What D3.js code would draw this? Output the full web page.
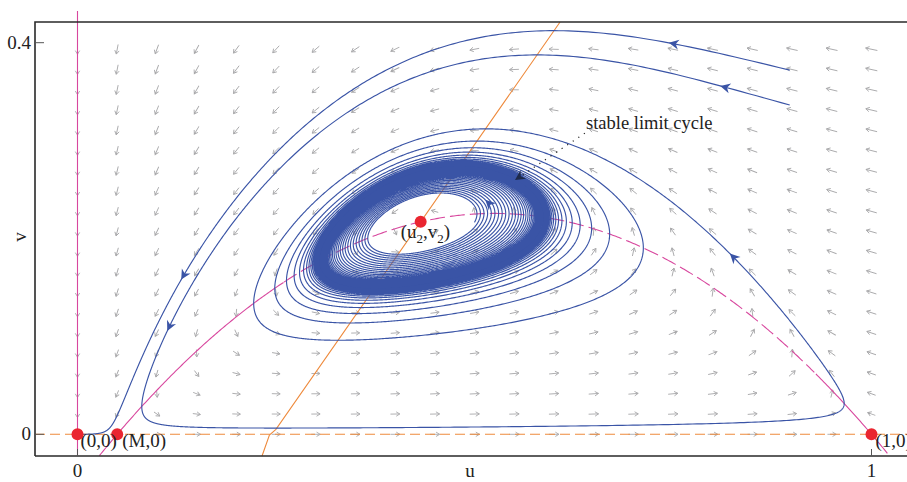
<!DOCTYPE html>
<html>
<head>
<meta charset="utf-8">
<script src="https://cdn.jsdelivr.net/npm/d3@7"></script>
<style>
  body { margin: 0; background: #fff; }
  svg { display: block; font-family: "Liberation Serif", "DejaVu Serif", serif; }
</style>
</head>
<body>
<svg id="chart" width="907" height="482"></svg>
<script>
// Predator–prey model with a strong Allee effect in the prey:
//   u' = u[(1-u)(u-M) - v]
//   v' = s v (u - c - v/k)
const alleeM = [0.05];
const predatorLine = [0.2455, 1.1625];   // c, k  (v-nullcline v = k(u - c))
const predatorRate = [0.407];            // s

// Axis ticks
const uTicks = [0, 1];
const vTicks = [0, 0.4];

// Direction-field grid
const fieldU = d3.range(0, 1.0001, 0.05);
const fieldV = d3.range(0, 20).map(i => i * 0.0207);

// Trajectory starting points and integration times
const trajStarts = [[0.897, 0.372], [0.897, 0.3364], [0.50, 0.2165]];
const trajTimes = [260, 1600, 1600];

// Arrowheads placed along trajectories: [trajectory, u, v]
const trajArrows = [
  [0, 0.7437, 0.3987], [0, 0.1417, 0.1525],
  [1, 0.8117, 0.3537], [1, 0.0976, 0.1116], [1, 0.818, 0.1831],
  [2, 0.5132, 0.2393]
];

// Annotation leader line
const leaderPts = [[0.639, 0.3076], [0.551, 0.2597]];

// Lower kink of the v-nullcline contour near v = 0
const nullKink = [[0.2499, 0.005], [0.2417, -0.0008], [0.2324, -0.0222]];

const [M] = alleeM, [c, k] = predatorLine, [s] = predatorRate;
const rhs = (u, v) => [u * ((1 - u) * (u - M) - v), s * v * (u - c - v / k)];

// interior equilibrium: (1-u)(u-M) = k(u-c)
const qb = k - 1 - M, qc = M - k * c;
const u2 = (-qb + Math.sqrt(qb * qb - 4 * qc)) / 2;
const v2 = k * (u2 - c);

const equilibria = [
  { u: 0, v: 0, label: "(0,0)" },
  { u: M, v: 0, label: "(M,0)" },
  { u: 1, v: 0, label: "(1,0)" },
  { u: u2, v: v2, label: "u2v2" }
];

const svg = d3.select("#chart");
const x = d3.scaleLinear().domain([0, 1]).range([77.5, 871.5]);
const y = d3.scaleLinear().domain([0, 0.4]).range([434.3, 42.7]);
const frame = { left: 35, top: 22, bottom: 456, right: 930 };

svg.append("defs").append("clipPath").attr("id", "plotclip")
  .append("rect").attr("x", frame.left).attr("y", frame.top)
  .attr("width", frame.right - frame.left).attr("height", frame.bottom - frame.top);

// ---- direction field
const field = [];
fieldU.forEach(u => fieldV.forEach(v => {
  const [du, dv] = rhs(u, v);
  const dx = du * (x(1) - x(0)), dy = dv * (y(1) - y(0));
  field.push({ u, v, dx, dy, m: Math.hypot(dx, dy) });
}));
const mMax = d3.max(field, d => d.m);
const fieldG = svg.append("g").attr("stroke", "#a9a9ab").attr("stroke-width", 0.9)
  .attr("fill", "none");
field.forEach(d => {
  if (d.m === 0) return;
  const len = 6 + 6 * Math.pow(d.m / mMax, 0.35);
  const ang = Math.atan2(d.dy, d.dx) * 180 / Math.PI;
  const g = fieldG.append("g")
    .attr("transform", `translate(${x(d.u)},${y(d.v)}) rotate(${ang})`);
  g.append("path").attr("d",
    `M${-len / 2},0L${len / 2},0M${len / 2 - 3.6},-2.2L${len / 2},0L${len / 2 - 3.6},2.2`);
});

// ---- nullclines
const plot = svg.append("g");
// u = 0
plot.append("line").attr("x1", x(0)).attr("x2", x(0)).attr("y1", 11).attr("y2", frame.bottom)
  .attr("stroke", "#d8479e").attr("stroke-width", 1.1);
// v = 0
plot.append("line").attr("x1", frame.left).attr("x2", 907).attr("y1", y(0)).attr("y2", y(0))
  .attr("stroke", "#ee8a3c").attr("stroke-width", 1.1).attr("stroke-dasharray", "10,5");
// prey nullcline v = (1-u)(u-M)
const para = u => (1 - u) * (u - M);
const line = d3.line().x(d => x(d[0])).y(d => y(d[1]));
const paraSolidL = d3.range(0.0275, 0.26, 0.002).map(u => [u, para(u)]);
const paraDash = d3.range(0.26, 0.93, 0.002).map(u => [u, para(u)]);
const paraSolidR = d3.range(0.93, 1.022, 0.002).map(u => [u, para(u)]);
[paraSolidL, paraDash, paraSolidR].forEach((pts, i) => {
  plot.append("path").attr("d", line(pts)).attr("fill", "none")
    .attr("stroke", "#d8479e").attr("stroke-width", 1.1)
    .attr("stroke-dasharray", i === 1 ? "15,5" : null)
    .attr("clip-path", "url(#plotclip)");
});
// predator nullcline v = k(u - c)
const vTop = y.invert(frame.top);
const predPts = [[c + vTop / k, vTop], ...nullKink];
plot.append("path").attr("d", line(predPts)).attr("fill", "none")
  .attr("stroke", "#ee8a3c").attr("stroke-width", 1.1);

// ---- trajectories (RK4)
function integrate(start, T, dt) {
  let [u, v] = start;
  const pts = [[u, v]];
  const n = Math.round(T / dt);
  for (let i = 0; i < n; i++) {
    const k1 = rhs(u, v);
    const k2 = rhs(u + dt / 2 * k1[0], v + dt / 2 * k1[1]);
    const k3 = rhs(u + dt / 2 * k2[0], v + dt / 2 * k2[1]);
    const k4 = rhs(u + dt * k3[0], v + dt * k3[1]);
    u += dt / 6 * (k1[0] + 2 * k2[0] + 2 * k3[0] + k4[0]);
    v += dt / 6 * (k1[1] + 2 * k2[1] + 2 * k3[1] + k4[1]);
    pts.push([u, v]);
  }
  return pts;
}
const trajs = trajStarts.map((st, i) => integrate(st, trajTimes[i], 0.05));
const trajG = svg.append("g").attr("clip-path", "url(#plotclip)");
trajs.forEach(pts => {
  trajG.append("path").attr("d", line(pts)).attr("fill", "none")
    .attr("stroke", "#3a54a6").attr("stroke-width", 1.15);
});

// arrowheads on trajectories
const headPath = "M0,0L-10,-5L-7,0L-10,5Z";
trajArrows.forEach(([ti, ua, va]) => {
  const pts = trajs[ti];
  let best = 0, bd = Infinity;
  pts.forEach((p, j) => {
    const d = Math.hypot(x(p[0]) - x(ua), y(p[1]) - y(va));
    if (d < bd) { bd = d; best = j; }
  });
  const p = pts[best], q = pts[Math.min(best + 3, pts.length - 1)];
  const ang = Math.atan2(y(q[1]) - y(p[1]), x(q[0]) - x(p[0])) * 180 / Math.PI;
  trajG.append("path").attr("d", headPath).attr("fill", "#3a54a6")
    .attr("transform", `translate(${x(p[0])},${y(p[1])}) rotate(${ang})`);
});

// ---- annotation
const [l0, l1] = leaderPts;
svg.append("line").attr("x1", x(l0[0])).attr("y1", y(l0[1]))
  .attr("x2", x(l1[0])).attr("y2", y(l1[1]))
  .attr("stroke", "#222").attr("stroke-width", 1.2).attr("stroke-dasharray", "1.2,5.5");
const la = Math.atan2(y(l1[1]) - y(l0[1]), x(l1[0]) - x(l0[0])) * 180 / Math.PI;
svg.append("path").attr("d", headPath).attr("fill", "#1e2a4a")
  .attr("transform", `translate(${x(l1[0])},${y(l1[1])}) rotate(${la})`);
svg.append("text").attr("x", 586).attr("y", 129).attr("font-size", 18.5)
  .attr("fill", "#222").text("stable limit cycle");

// ---- equilibria
svg.append("g").selectAll("circle").data(equilibria).join("circle")
  .attr("cx", d => x(d.u)).attr("cy", d => y(d.v)).attr("r", 6)
  .attr("fill", "#ea2630");
const labG = svg.append("g").attr("font-size", 19).attr("fill", "#222");
labG.append("text").attr("x", x(0) + 3).attr("y", y(0) + 13).text(equilibria[0].label);
labG.append("text").attr("x", x(M) + 5).attr("y", y(0) + 13).text(equilibria[1].label);
labG.append("text").attr("x", x(1) + 4).attr("y", y(0) + 13).text(equilibria[2].label);
const eqT = labG.append("text").attr("x", x(u2) - 20).attr("y", y(v2) + 16);
eqT.append("tspan").text("(u");
eqT.append("tspan").attr("font-size", 13).attr("dy", 5).text("2");
eqT.append("tspan").attr("dy", -5).text(",v");
eqT.append("tspan").attr("font-size", 13).attr("dy", 5).text("2");
eqT.append("tspan").attr("dy", -5).text(")");

// ---- frame and axes
const axG = svg.append("g");
axG.append("path")
  .attr("d", `M${frame.left},${frame.bottom}L${frame.left},${frame.top}L907,${frame.top}M${frame.left},${frame.bottom}L907,${frame.bottom}`)
  .attr("fill", "none").attr("stroke", "#2a2a2a").attr("stroke-width", 1.6);
vTicks.forEach(t => {
  axG.append("line").attr("x1", frame.left).attr("x2", frame.left + 9)
    .attr("y1", y(t)).attr("y2", y(t)).attr("stroke", "#555").attr("stroke-width", 1);
  axG.append("text").attr("x", frame.left - 4).attr("y", y(t) + 6)
    .attr("text-anchor", "end").attr("font-size", 19).attr("fill", "#222").text(t);
});
uTicks.forEach(t => {
  axG.append("line").attr("x1", x(t)).attr("x2", x(t))
    .attr("y1", frame.bottom).attr("y2", frame.bottom - 7).attr("stroke", "#555").attr("stroke-width", 1);
  axG.append("text").attr("x", x(t)).attr("y", 477)
    .attr("text-anchor", "middle").attr("font-size", 19).attr("fill", "#222").text(t);
});
axG.append("text").attr("x", 470).attr("y", 477).attr("text-anchor", "middle")
  .attr("font-size", 19).attr("fill", "#222").text("u");
axG.append("text").attr("transform", "translate(26,237) rotate(-90)").attr("text-anchor", "middle")
  .attr("font-size", 19).attr("fill", "#222").text("v");
</script>
</body>
</html>
